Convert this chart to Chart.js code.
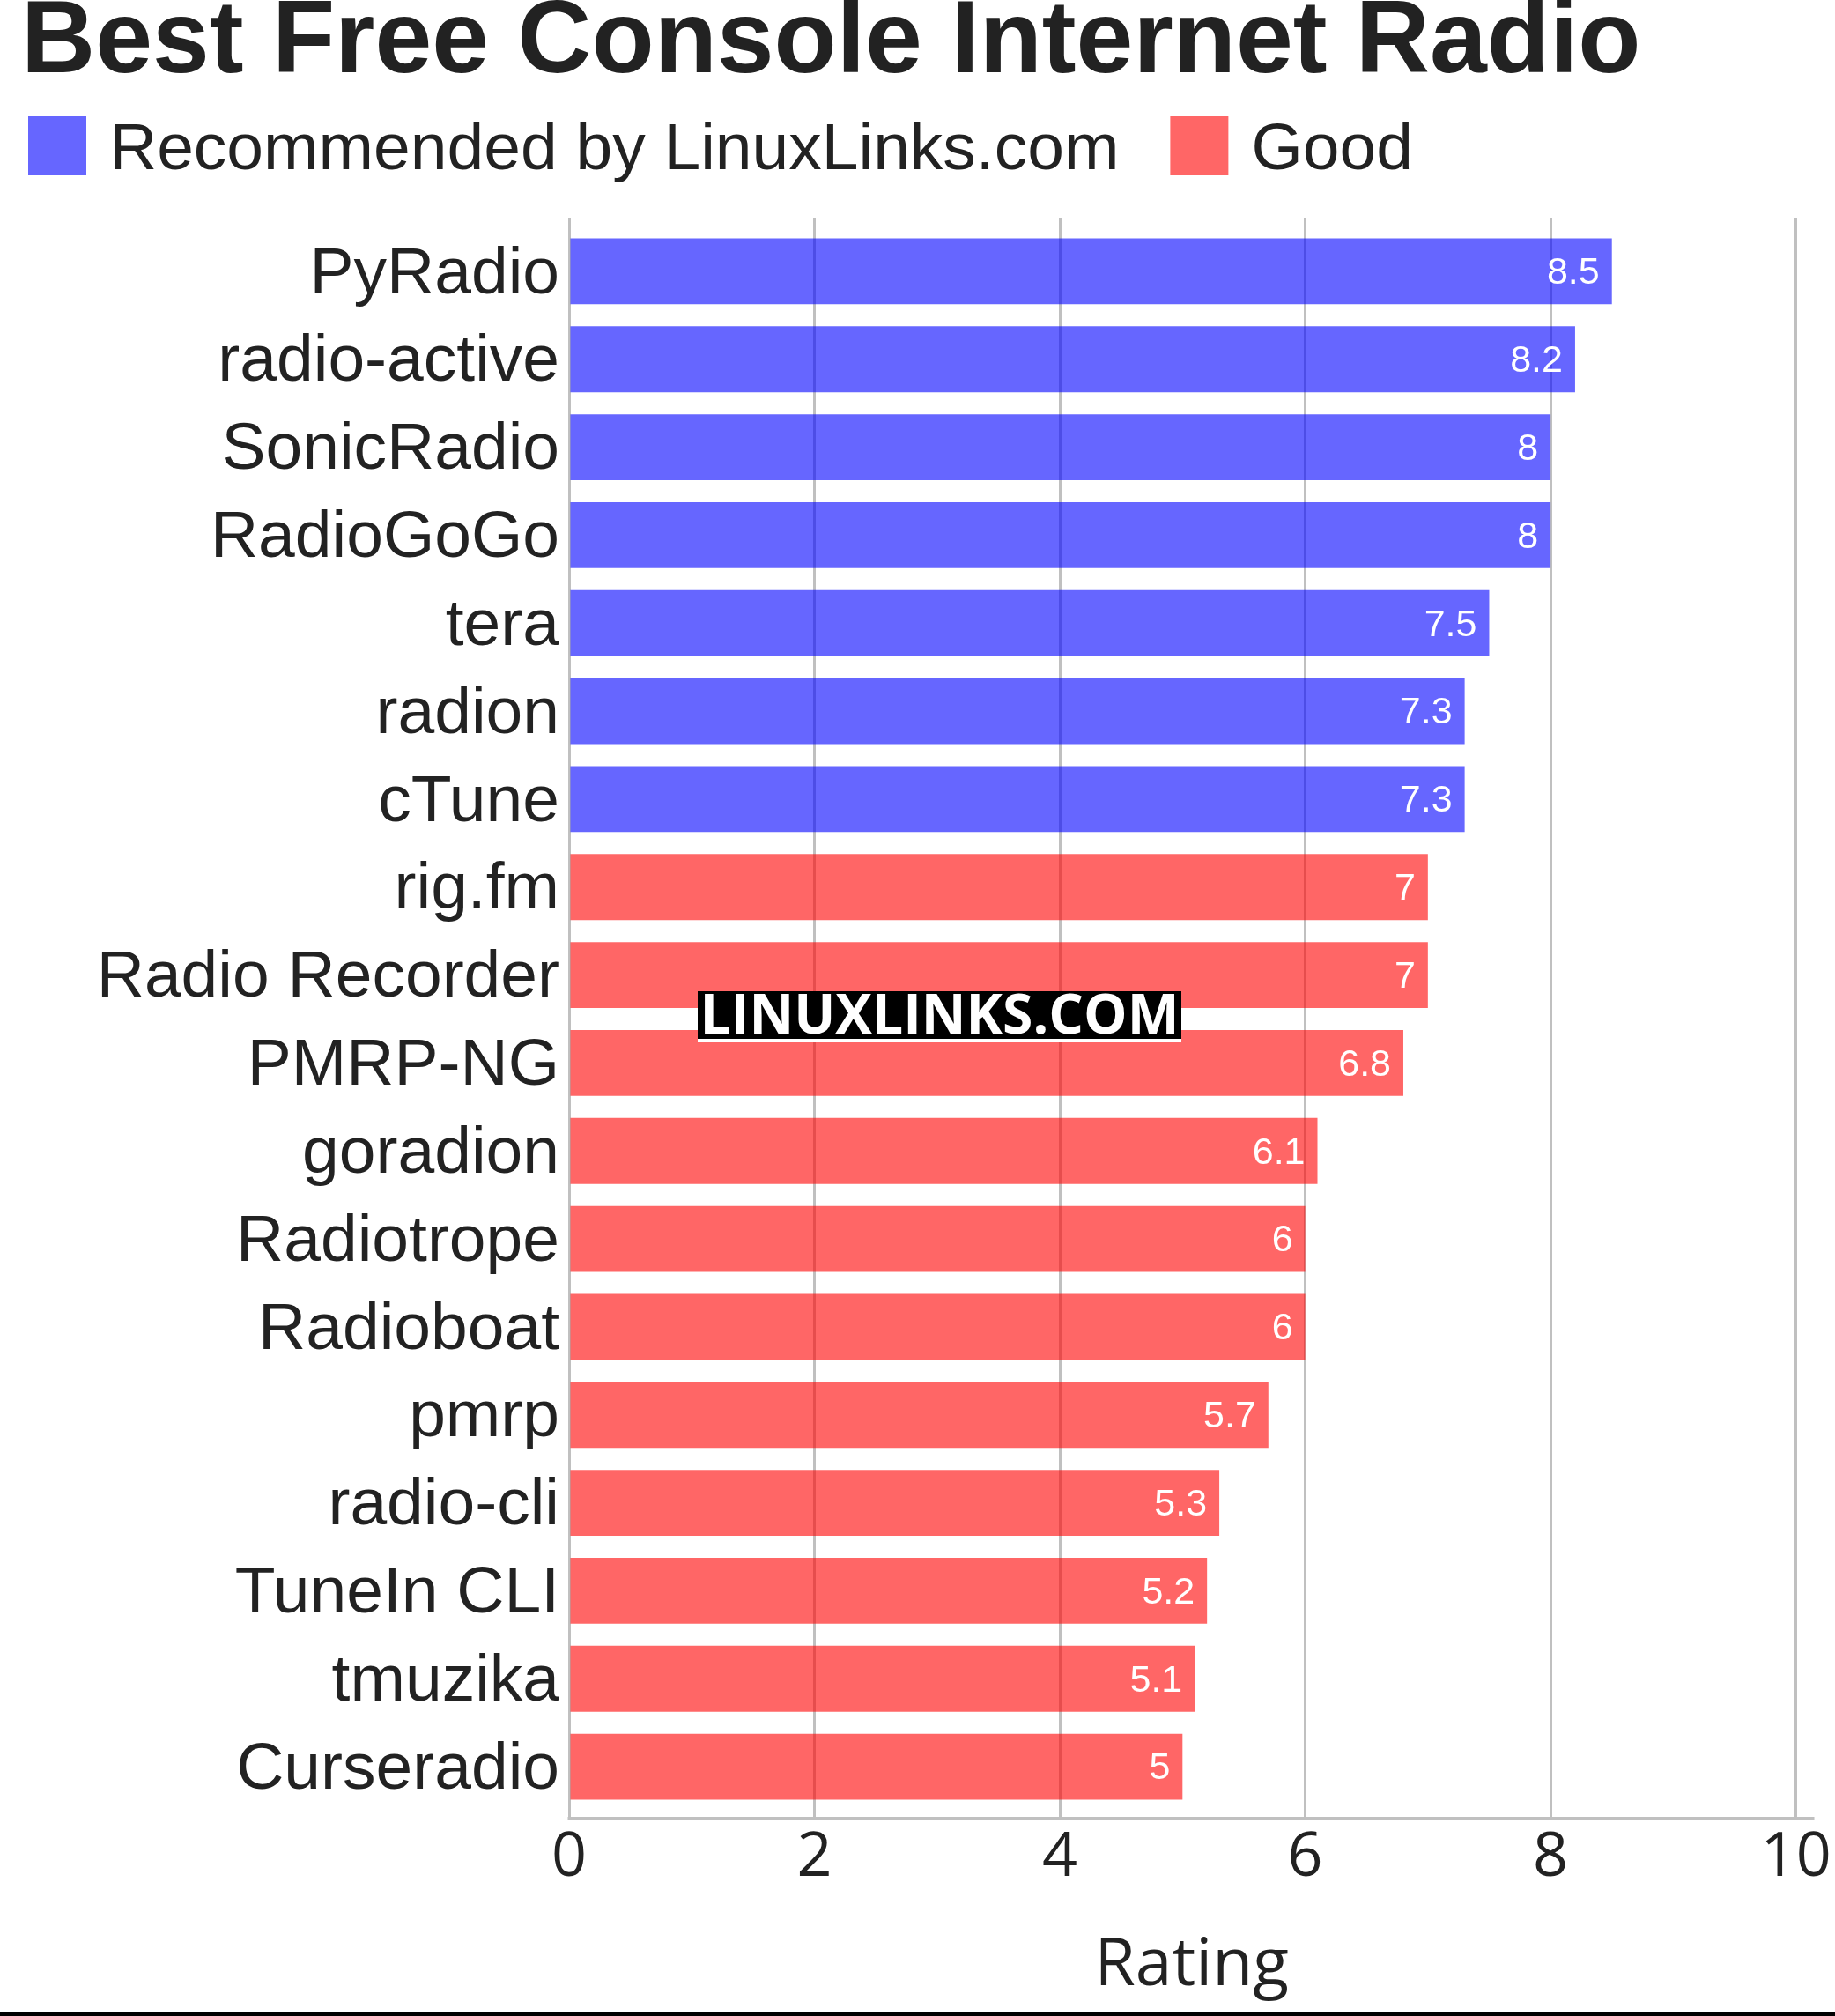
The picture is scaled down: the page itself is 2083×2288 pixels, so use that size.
<!DOCTYPE html>
<html>
<head>
<meta charset="utf-8">
<script src="https://cdn.jsdelivr.net/npm/chart.js@4.4.1/dist/chart.umd.min.js"></script>
<style>
html,body{margin:0;padding:0;background:#fff;overflow:hidden}
canvas{display:block}
</style>
</head>
<body>
<canvas id="chart" width="2083" height="2288"></canvas>
<script>
// ---------- data ----------
const chartTitle = 'Best Free Console Internet Radio';
const axisTitle = 'Rating';
const watermarkText = 'LINUXLINKS.COM';
const seriesNames = ['Recommended by LinuxLinks.com', 'Good'];
const categories = [
  'PyRadio', 'radio-active', 'SonicRadio', 'RadioGoGo', 'tera', 'radion', 'cTune',
  'rig.fm', 'Radio Recorder', 'PMRP-NG', 'goradion', 'Radiotrope', 'Radioboat',
  'pmrp', 'radio-cli', 'TuneIn CLI', 'tmuzika', 'Curseradio'
];
const recommendedValues = [8.5, 8.2, 8, 8, 7.5, 7.3, 7.3, null, null, null, null, null, null, null, null, null, null, null];
const goodValues = [null, null, null, null, null, null, null, 7, 7, 6.8, 6.1, 6, 6, 5.7, 5.3, 5.2, 5.1, 5];
const tickValues = [0, 2, 4, 6, 8, 10];

// ---------- style ----------
const seriesColors = ['rgba(0,0,255,0.6)', 'rgba(255,0,0,0.6)'];
const textColor = '#222222';
const gridColor = '#c0c0c0';
const sansFamily = '"Liberation Sans", Arial, sans-serif';
const openFamily = '"Open Sans", "Noto Sans", sans-serif';

const setTicks = (scale) => { scale.ticks = tickValues.map(v => ({ value: v })); };

const customLegend = {
  id: 'customLegend',
  afterDraw(chart) {
    const ctx = chart.ctx;
    ctx.save();
    ctx.font = '75px ' + sansFamily;
    ctx.textAlign = 'left';
    ctx.textBaseline = 'alphabetic';
    let x = 32;
    chart.data.datasets.forEach(ds => {
      ctx.fillStyle = ds.backgroundColor;
      ctx.fillRect(x, 132, 66, 67);
      ctx.fillStyle = textColor;
      const tx = x + 92;
      ctx.fillText(ds.label, tx, 192);
      x = tx + ctx.measureText(ds.label).width + 58;
    });
    ctx.restore();
  }
};

const axisLine = {
  id: 'axisLine',
  beforeDatasetsDraw(chart) {
    const ctx = chart.ctx;
    const xs = chart.scales.x;
    const area = chart.chartArea;
    const x0 = xs.getPixelForValue(0);
    ctx.save();
    ctx.fillStyle = gridColor;
    ctx.fillRect(x0 - 1.5, area.bottom + 7, area.right - x0 + 1.5, 4);
    ctx.restore();
  }
};

const valueLabels = {
  id: 'valueLabels',
  afterDatasetsDraw(chart) {
    const ctx = chart.ctx;
    ctx.save();
    ctx.font = '43px ' + sansFamily;
    ctx.fillStyle = '#ffffff';
    ctx.textAlign = 'right';
    ctx.textBaseline = 'middle';
    chart.data.datasets.forEach((ds, i) => {
      const meta = chart.getDatasetMeta(i);
      meta.data.forEach((bar, j) => {
        const v = ds.data[j];
        if (v === null || v === undefined) return;
        ctx.fillText(String(v), bar.x - 14, bar.y + 2.5);
      });
    });
    ctx.restore();
  }
};

const overlay = {
  id: 'overlay',
  afterDraw(chart) {
    const ctx = chart.ctx;
    ctx.save();
    ctx.fillStyle = '#000000';
    ctx.fillRect(792, 1125, 549, 54);
    ctx.fillStyle = '#ffffff';
    ctx.fillRect(792, 1179, 549, 4);
    ctx.font = 'bold 63px ' + openFamily;
    ctx.textAlign = 'center';
    ctx.textBaseline = 'alphabetic';
    ctx.fillText(watermarkText, 1066.5, 1173, 544);
    ctx.fillStyle = '#000000';
    ctx.fillRect(0, 2283, chart.width, 5);
    ctx.restore();
  }
};

new Chart(document.getElementById('chart'), {
  type: 'bar',
  data: {
    labels: categories,
    datasets: [
      { label: seriesNames[0], data: recommendedValues, backgroundColor: seriesColors[0] },
      { label: seriesNames[1], data: goodValues, backgroundColor: seriesColors[1] }
    ]
  },
  options: {
    indexAxis: 'y',
    responsive: false,
    devicePixelRatio: 1,
    animation: false,
    grouped: false,
    barPercentage: 0.75,
    categoryPercentage: 1,
    layout: { padding: { left: 24, right: 23, top: 0, bottom: 0 } },
    plugins: {
      legend: { display: false },
      tooltip: { enabled: false },
      title: {
        display: true,
        text: chartTitle,
        align: 'start',
        color: textColor,
        font: { family: sansFamily, size: 116.5, weight: 'bold', lineHeight: '86px' },
        padding: { top: 7, bottom: 154 }
      }
    },
    scales: {
      x: {
        position: 'bottom',
        min: 0,
        max: 10.15,
        afterBuildTicks: setTicks,
        grid: { color: gridColor, lineWidth: 3, drawTicks: true, tickLength: 8 },
        border: { display: false },
        ticks: { color: textColor, padding: 4, font: { family: openFamily, size: 70 } },
        title: {
          display: true,
          text: axisTitle,
          color: textColor,
          font: { family: openFamily, size: 75 },
          padding: { top: 32, bottom: 11 }
        }
      },
      x2: {
        position: 'top',
        min: 0,
        max: 10.15,
        afterBuildTicks: setTicks,
        grid: { color: gridColor, lineWidth: 3, drawOnChartArea: false, drawTicks: true, tickLength: 11 },
        border: { display: false },
        ticks: { display: false }
      },
      y: {
        afterFit: (scale) => { scale.width = 622; },
        grid: { display: false },
        border: { display: false },
        ticks: { color: textColor, padding: 3, labelOffset: 4, font: { family: sansFamily, size: 75 } }
      }
    }
  },
  plugins: [axisLine, valueLabels, customLegend, overlay]
});
</script>
</body>
</html>
